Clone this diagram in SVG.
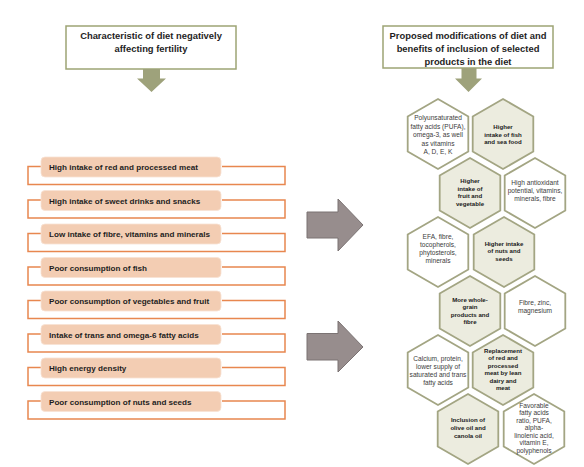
<svg xmlns="http://www.w3.org/2000/svg" xmlns:xlink="http://www.w3.org/1999/xlink" width="584" height="467" viewBox="0 0 584 467">
<style>
text{font-family:"Liberation Sans",Arial,sans-serif;fill:#1e1e1e}
.hdr{font-size:9.4px;font-weight:bold;text-anchor:middle}
.hbox{fill:#fff;stroke:#9da474;stroke-width:1.5}
.pill{fill:#f3cdb3;stroke:#f7e2d4;stroke-width:0.8}
.brk{fill:none;stroke:#e8874f;stroke-width:1.5}
.pt{font-size:8.1px;font-weight:bold}
.hexw{fill:#fff;stroke:#a3a583;stroke-width:1.8}
.hexf{fill:#ececdf;stroke:#a3a583;stroke-width:1.8}
.hb{font-size:6.1px;font-weight:bold;text-anchor:middle;fill:#1a1a1a}
.hr{font-size:6.6px;text-anchor:middle;fill:#3c3c3c}
.oarr{fill:#9ea27b}
.garr{fill:#978d8d;stroke:#7b7373;stroke-width:1}
</style>
<defs>
<polygon id="hex" points="0,-35 30.3,-17.5 30.3,17.5 0,35 -30.3,17.5 -30.3,-17.5"/>
</defs>
<rect width="584" height="467" fill="#fff"/>

<g id="header-left">
<rect class="hbox" x="66" y="26" width="170" height="43"/>
<text class="hdr" x="151" y="38.5">Characteristic of diet negatively</text>
<text class="hdr" x="151" y="51.5">affecting fertility</text>
</g>

<g id="header-right">
<rect class="hbox" x="383" y="26" width="170" height="42"/>
<text class="hdr" x="468" y="38.5">Proposed modifications of diet and</text>
<text class="hdr" x="468" y="51.5">benefits of inclusion of selected</text>
<text class="hdr" x="468" y="64.5">products in the diet</text>
</g>

<g id="factor-1">
<path class="brk" d="M41,166.5 H28 V184.5 H285 V166.5 H222"/>
<rect class="pill" x="41" y="157" width="180" height="20" rx="4"/>
<text class="pt" x="49" y="170">High intake of red and processed meat</text>
</g>
<g id="factor-2">
<path class="brk" d="M41,200 H28 V218 H285 V200 H222"/>
<rect class="pill" x="41" y="190.5" width="180" height="20" rx="4"/>
<text class="pt" x="49" y="203.5">High intake of sweet drinks and snacks</text>
</g>
<g id="factor-3">
<path class="brk" d="M41,233.5 H28 V251.5 H285 V233.5 H222"/>
<rect class="pill" x="41" y="224" width="180" height="20" rx="4"/>
<text class="pt" x="49" y="237">Low intake of fibre, vitamins and minerals</text>
</g>
<g id="factor-4">
<path class="brk" d="M41,267 H28 V285 H285 V267 H222"/>
<rect class="pill" x="41" y="257.5" width="180" height="20" rx="4"/>
<text class="pt" x="49" y="270.5">Poor consumption of fish</text>
</g>
<g id="factor-5">
<path class="brk" d="M41,300.5 H28 V318.5 H285 V300.5 H222"/>
<rect class="pill" x="41" y="291" width="180" height="20" rx="4"/>
<text class="pt" x="49" y="304">Poor consumption of vegetables and fruit</text>
</g>
<g id="factor-6">
<path class="brk" d="M41,334 H28 V352 H285 V334 H222"/>
<rect class="pill" x="41" y="324.5" width="180" height="20" rx="4"/>
<text class="pt" x="49" y="337.5">Intake of trans and omega-6 fatty acids</text>
</g>
<g id="factor-7">
<path class="brk" d="M41,367.5 H28 V385.5 H285 V367.5 H222"/>
<rect class="pill" x="41" y="358" width="180" height="20" rx="4"/>
<text class="pt" x="49" y="371">High energy density</text>
</g>
<g id="factor-8">
<path class="brk" d="M41,401 H28 V419 H285 V401 H222"/>
<rect class="pill" x="41" y="391.5" width="180" height="20" rx="4"/>
<text class="pt" x="49" y="404.5">Poor consumption of nuts and seeds</text>
</g>

<g id="hex-pufa">
<use xlink:href="#hex" href="#hex" class="hexw" transform="translate(438,134)"/>
<text class="hr" x="438" y="120">Polyunsaturated</text>
<text class="hr" x="438" y="128.5">fatty acids (PUFA),</text>
<text class="hr" x="438" y="137">omega-3, as well</text>
<text class="hr" x="438" y="145.5">as vitamins</text>
<text class="hr" x="438" y="154">A, D, E, K</text>
</g>
<g id="hex-fish">
<use xlink:href="#hex" href="#hex" class="hexf" transform="translate(503,134)"/>
<text class="hb" x="503" y="129">Higher</text>
<text class="hb" x="503" y="136.5">intake of fish</text>
<text class="hb" x="503" y="144">and sea food</text>
</g>
<g id="hex-fruit">
<use xlink:href="#hex" href="#hex" class="hexf" transform="translate(470,193)"/>
<text class="hb" x="470" y="183">Higher</text>
<text class="hb" x="470" y="190.7">intake of</text>
<text class="hb" x="470" y="198.4">fruit and</text>
<text class="hb" x="470" y="206.1">vegetable</text>
</g>
<g id="hex-antiox">
<use xlink:href="#hex" href="#hex" class="hexw" transform="translate(535,193)"/>
<text class="hr" x="535" y="185">High antioxidant</text>
<text class="hr" x="535" y="193">potential, vitamins,</text>
<text class="hr" x="535" y="201">minerals, fibre</text>
</g>
<g id="hex-efa">
<use xlink:href="#hex" href="#hex" class="hexw" transform="translate(438,252)"/>
<text class="hr" x="438" y="239">EFA, fibre,</text>
<text class="hr" x="438" y="247">tocopherols,</text>
<text class="hr" x="438" y="255">phytosterols,</text>
<text class="hr" x="438" y="263">minerals</text>
</g>
<g id="hex-nuts">
<use xlink:href="#hex" href="#hex" class="hexf" transform="translate(504,252)"/>
<text class="hb" x="504" y="245.5">Higher intake</text>
<text class="hb" x="504" y="253.2">of nuts and</text>
<text class="hb" x="504" y="260.9">seeds</text>
</g>
<g id="hex-grain">
<use xlink:href="#hex" href="#hex" class="hexf" transform="translate(470,311)"/>
<text class="hb" x="470" y="301.5">More whole-</text>
<text class="hb" x="470" y="309">grain</text>
<text class="hb" x="470" y="316.5">products and</text>
<text class="hb" x="470" y="324">fibre</text>
</g>
<g id="hex-zinc">
<use xlink:href="#hex" href="#hex" class="hexw" transform="translate(535,311)"/>
<text class="hr" x="535" y="304.5">Fibre, zinc,</text>
<text class="hr" x="535" y="312.5">magnesium</text>
</g>
<g id="hex-calcium">
<use xlink:href="#hex" href="#hex" class="hexw" transform="translate(438,370)"/>
<text class="hr" x="438" y="360.5">Calcium, protein,</text>
<text class="hr" x="438" y="368.5">lower supply of</text>
<text class="hr" x="438" y="376.5">saturated and trans</text>
<text class="hr" x="438" y="384.5">fatty acids</text>
</g>
<g id="hex-replacement">
<use xlink:href="#hex" href="#hex" class="hexf" transform="translate(503,370)"/>
<text class="hb" x="503" y="353">Replacement</text>
<text class="hb" x="503" y="360.4">of red and</text>
<text class="hb" x="503" y="367.8">processed</text>
<text class="hb" x="503" y="375.2">meat by lean</text>
<text class="hb" x="503" y="382.6">dairy and</text>
<text class="hb" x="503" y="390">meat</text>
</g>
<g id="hex-olive">
<use xlink:href="#hex" href="#hex" class="hexf" transform="translate(468,429)"/>
<text class="hb" x="468" y="422.2">Inclusion of</text>
<text class="hb" x="468" y="429.9">olive oil and</text>
<text class="hb" x="468" y="437.6">canola oil</text>
</g>
<g id="hex-favorable">
<use xlink:href="#hex" href="#hex" class="hexw" transform="translate(534,429)"/>
<text class="hr" x="534" y="407.5">Favorable</text>
<text class="hr" x="534" y="415">fatty acids</text>
<text class="hr" x="534" y="422.5">ratio, PUFA,</text>
<text class="hr" x="534" y="430">alpha-</text>
<text class="hr" x="534" y="437.5">linolenic acid,</text>
<text class="hr" x="534" y="445">vitamin E,</text>
<text class="hr" x="534" y="452.5">polyphenols</text>
</g>

<g id="connectors">
<polygon class="oarr" points="143,69 160,69 160,78.5 166,78.5 151.5,92 137,78.5 143,78.5"/>
<polygon class="oarr" points="461.5,68 476.5,68 476.5,78.5 482,78.5 468.5,92 455,78.5 461.5,78.5"/>
<polygon class="garr" points="307,212 338,212 338,199 363,225 338,251 338,238 307,238"/>
<polygon class="garr" points="307,333.5 338,333.5 338,321 363,347 338,372 338,360 307,360"/>
</g>
</svg>
